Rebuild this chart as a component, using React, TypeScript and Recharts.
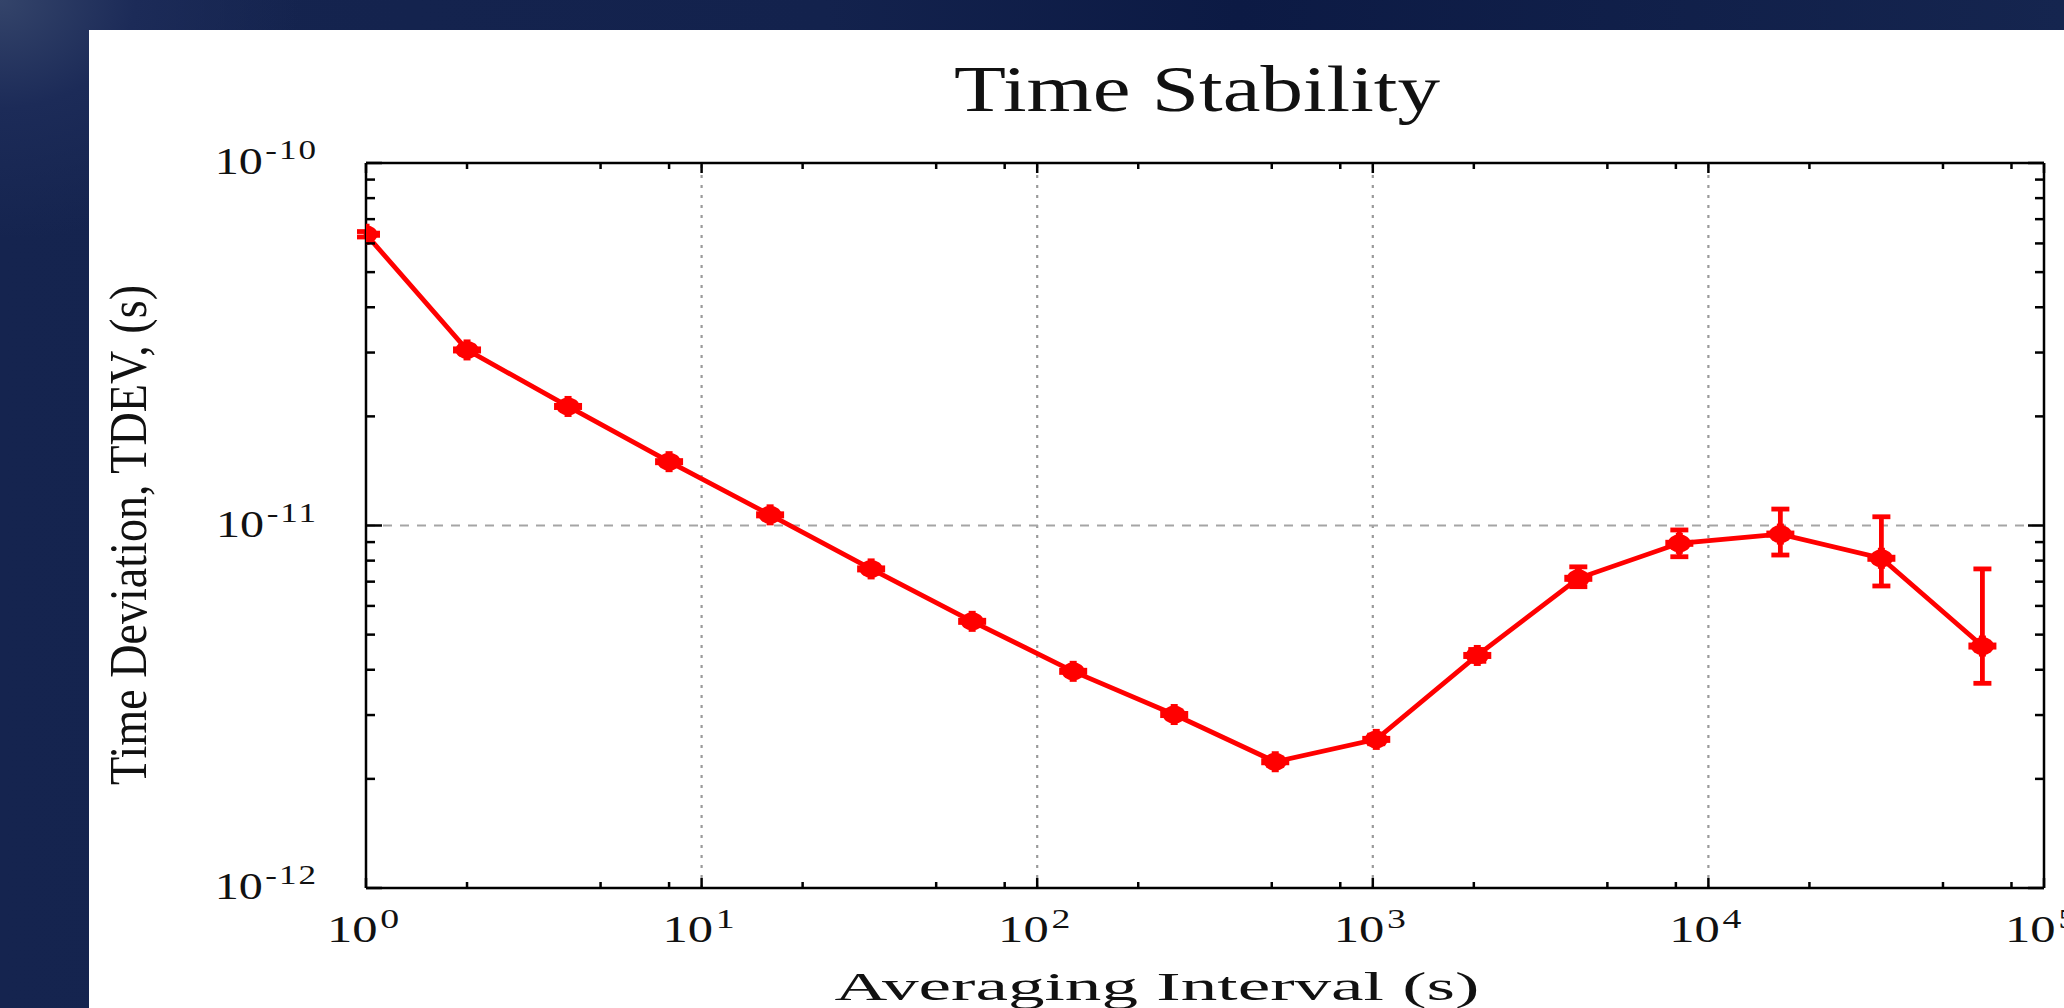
import React from 'react';
import { LineChart, Line, XAxis, YAxis, ErrorBar, ReferenceLine } from 'recharts';

// ---- data ----
const taus = [1, 2, 4, 8, 16, 32, 64, 128, 256, 512, 1024, 2048, 4096, 8192, 16384, 32768, 65536];
const tdev = [
  6.36e-11, 3.05e-11, 2.13e-11, 1.5e-11, 1.07e-11, 7.59e-12, 5.44e-12, 3.96e-12, 3.01e-12,
  2.23e-12, 2.57e-12, 4.38e-12, 7.15e-12, 8.93e-12, 9.47e-12, 8.12e-12, 4.65e-12,
];
const errLow = [
  6.25e-11, 2.99e-11, 2.09e-11, 1.47e-11, 1.05e-11, 7.45e-12, 5.34e-12, 3.89e-12, 2.95e-12,
  2.18e-12, 2.5e-12, 4.22e-12, 6.78e-12, 8.2e-12, 8.29e-12, 6.81e-12, 3.67e-12,
];
const errHigh = [
  6.47e-11, 3.11e-11, 2.17e-11, 1.53e-11, 1.09e-11, 7.73e-12, 5.54e-12, 4.03e-12, 3.07e-12,
  2.28e-12, 2.64e-12, 4.55e-12, 7.69e-12, 9.72e-12, 1.11e-11, 1.057e-11, 7.59e-12,
];
const xMajorTicks = [1, 10, 100, 1000, 10000, 100000];
const xMinorMultipliers = [2, 5, 8];
const yMajorTicks = [1e-12, 1e-11, 1e-10];
const yMinorMultipliers = [2, 3, 4, 5, 6, 7, 8, 9];
const xGridValues = [10, 100, 1000, 10000];
const yGridValues = [1e-11];
const titleText = 'Time Stability';
const xLabelText = 'Averaging Interval (s)';
const yLabelText = 'Time Deviation, TDEV, (s)';

const xDomain = [1, 100000];
const yDomain = [1e-12, 1e-10];

const rows = taus.map((t, i) => ({
  tau: t,
  tdev: tdev[i],
  err: [tdev[i] - errLow[i], errHigh[i] - tdev[i]],
}));

const buildTicks = (majors: number[], mults: number[], lo: number, hi: number) => {
  const out: number[] = [];
  majors.forEach((m) => {
    out.push(m);
    mults.forEach((k) => {
      const v = m * k;
      if (v > lo && v < hi) out.push(v);
    });
  });
  return out.sort((a, b) => a - b);
};
const xTicks = buildTicks(xMajorTicks, xMinorMultipliers, xDomain[0], xDomain[1]);
const yTicks = buildTicks(yMajorTicks, yMinorMultipliers, yDomain[0], yDomain[1]);

const isMajor = (v: number) => {
  const l = Math.log10(v);
  return Math.abs(l - Math.round(l)) < 1e-6;
};
const expOf = (v: number) => Math.round(Math.log10(v));

const SERIF = "'Liberation Serif', 'Times New Roman', 'DejaVu Serif', serif";
const INK = '#111';
const RED = '#ff0000';

const XBottomTick = (props: any) => {
  const { x, y, payload } = props;
  const v = payload.value;
  const major = isMajor(v);
  return (
    <g>
      <line x1={x} y1={y} x2={x} y2={y - (major ? 10 : 6)} stroke="#000" strokeWidth={2.5} />
      {major && (
        <g transform={`translate(${x - 3},${y + 54}) scale(1.35,1)`}>
          <text textAnchor="middle" fontFamily={SERIF} fontSize={37.5} fill={INK}>
            10
            <tspan dx={2} dy={-14} fontSize={28}>
              {String(expOf(v))}
            </tspan>
          </text>
        </g>
      )}
    </g>
  );
};

const XTopTick = (props: any) => {
  const { x, y, payload } = props;
  const major = isMajor(payload.value);
  return <line x1={x} y1={y} x2={x} y2={y + (major ? 10 : 6)} stroke="#000" strokeWidth={2.5} />;
};

const YLeftTick = (props: any) => {
  const { x, y, payload } = props;
  const v = payload.value;
  const major = isMajor(v);
  return (
    <g>
      <line x1={x} y1={y} x2={x + (major ? 16 : 9)} y2={y} stroke="#000" strokeWidth={2.5} />
      {major && (
        <g transform={`translate(${x - 48},${y + 11}) scale(1.3,1)`}>
          <text textAnchor="end" fontFamily={SERIF} fontSize={37} fill={INK}>
            10
            <tspan dx={2} dy={-15} fontSize={27} letterSpacing={1.5}>
              {String(expOf(v))}
            </tspan>
          </text>
        </g>
      )}
    </g>
  );
};

const YRightTick = (props: any) => {
  const { x, y, payload } = props;
  const major = isMajor(payload.value);
  return <line x1={x} y1={y} x2={x - (major ? 16 : 9)} y2={y} stroke="#000" strokeWidth={2.5} />;
};

const Marker = (props: any) => {
  const { cx, cy, index } = props;
  if (cx == null || cy == null) return <g key={`m${index}`} />;
  return (
    <g key={`m${index}`}>
      <ellipse cx={cx} cy={cy} rx={11.5} ry={9} fill={RED} />
      <rect x={cx - 14} y={cy - 3.5} width={28} height={7} fill={RED} />
      <rect x={cx - 3.5} y={cy - 10.5} width={7} height={21} fill={RED} />
    </g>
  );
};

const axisLineStyle = { stroke: '#000', strokeWidth: 2.5 };

export default function App() {
  return (
    <div
      style={{
        position: 'absolute',
        left: 0,
        top: 0,
        width: 2064,
        height: 1008,
        overflow: 'hidden',
        background:
          'radial-gradient(ellipse 300px 240px at 0% 0%, #34446a 0%, #1c2b58 45%, rgba(19,33,75,0) 100%), linear-gradient(90deg, #15244f 0%, #13224d 40%, #0c1a44 60%, #15254f 100%)',
      }}
    >
      <div
        style={{
          position: 'absolute',
          left: 89,
          top: 30,
          width: 2064 - 89,
          height: 1008 - 30,
          background: '#ffffff',
        }}
      />
      <div style={{ position: 'absolute', left: 0, top: 0 }}>
        <LineChart
          width={2064}
          height={1008}
          data={rows}
          margin={{ top: 153, right: 10, bottom: 60, left: 266 }}
        >
          <XAxis
            xAxisId="b"
            dataKey="tau"
            type="number"
            scale="log"
            domain={xDomain}
            allowDataOverflow
            ticks={xTicks}
            interval={0}
            tick={<XBottomTick />}
            tickLine={false}
            tickSize={0}
            tickMargin={0}
            axisLine={axisLineStyle}
            height={60}
            orientation="bottom"
          />
          <XAxis
            xAxisId="t"
            dataKey="tau"
            type="number"
            scale="log"
            domain={xDomain}
            allowDataOverflow
            ticks={xTicks}
            interval={0}
            tick={<XTopTick />}
            tickLine={false}
            tickSize={0}
            tickMargin={0}
            axisLine={axisLineStyle}
            height={10}
            orientation="top"
          />
          <YAxis
            yAxisId="l"
            type="number"
            scale="log"
            domain={yDomain}
            allowDataOverflow
            ticks={yTicks}
            interval={0}
            tick={<YLeftTick />}
            tickLine={false}
            tickSize={0}
            tickMargin={0}
            axisLine={axisLineStyle}
            width={100}
            orientation="left"
          />
          <YAxis
            yAxisId="r"
            type="number"
            scale="log"
            domain={yDomain}
            allowDataOverflow
            ticks={yTicks}
            interval={0}
            tick={<YRightTick />}
            tickLine={false}
            tickSize={0}
            tickMargin={0}
            axisLine={axisLineStyle}
            width={10}
            orientation="right"
          />
          {xGridValues.map((v) => (
            <ReferenceLine
              key={`gx${v}`}
              x={v}
              xAxisId="b"
              yAxisId="l"
              stroke="#9a9a9a"
              strokeWidth={2.2}
              strokeDasharray="3 7"
              ifOverflow="extendDomain"
            />
          ))}
          {yGridValues.map((v) => (
            <ReferenceLine
              key={`gy${v}`}
              y={v}
              xAxisId="b"
              yAxisId="l"
              stroke="#a5a5a5"
              strokeWidth={2.2}
              strokeDasharray="9 8"
            />
          ))}
          <Line
            xAxisId="b"
            yAxisId="l"
            dataKey="tdev"
            type="linear"
            stroke={RED}
            strokeWidth={4.8}
            dot={<Marker />}
            activeDot={false}
            isAnimationActive={false}
          >
            <ErrorBar dataKey="err" direction="y" width={9} stroke={RED} strokeWidth={4.8} isAnimationActive={false} />
          </Line>
        </LineChart>
      </div>
      <svg
        width={2064}
        height={1008}
        style={{ position: 'absolute', left: 0, top: 0, pointerEvents: 'none' }}
      >
        <text
          x={1197}
          y={111}
          textAnchor="middle"
          fontFamily={SERIF}
          fontSize={66}
          fill={INK}
          textLength={486}
          lengthAdjust="spacingAndGlyphs"
        >
          {titleText}
        </text>
        <text
          x={1157}
          y={1000}
          textAnchor="middle"
          fontFamily={SERIF}
          fontSize={41}
          fill={INK}
          textLength={645}
          lengthAdjust="spacingAndGlyphs"
        >
          {xLabelText}
        </text>
        <g transform="translate(146,535) scale(1.15,1) rotate(-90)">
          <text
            x={0}
            y={0}
            textAnchor="middle"
            fontFamily={SERIF}
            fontSize={46}
            fill={INK}
            textLength={500}
            lengthAdjust="spacingAndGlyphs"
          >
            {yLabelText}
          </text>
        </g>
      </svg>
    </div>
  );
}
